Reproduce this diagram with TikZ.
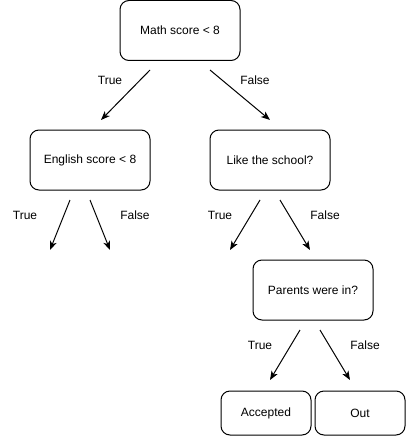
\documentclass[tikz,border=0pt]{standalone}
\usepackage{fontspec}
\setmainfont{Liberation Sans}
\usetikzlibrary{arrows.meta}
\begin{document}
\begin{tikzpicture}[x=1pt,y=-1pt,
  box/.style={draw=black,line width=1pt,rounded corners=9pt,minimum width=120pt,minimum height=60pt,inner sep=0pt,font=\fontsize{12}{14}\selectfont},
  leaf/.style={box,minimum width=90pt,minimum height=44pt},
  lbl/.style={font=\fontsize{12}{14}\selectfont,inner sep=0pt},
  arr/.style={draw=black,line width=1pt,-{Stealth[length=9pt,width=7pt,inset=2.5pt]}}]
\useasboundingbox (0,0) rectangle (406,436);
\node[box] (math) at (180,30.5) {Math score < 8};
\node[box] (eng) at (90,160) {English score < 8};
\node[box] (like) at (270,160) {Like the school?};
\node[box] (par) at (313,290) {Parents were in?};
\node[leaf] (acc) at (266,413) {Accepted};
\node[leaf] (out) at (360,413) {Out};
% free-end coordinates
\coordinate (m1) at (150,70); \coordinate (m1e) at (101,120);
\coordinate (m2) at (210,70); \coordinate (m2e) at (270,120);
\coordinate (e1) at (70,200); \coordinate (e1e) at (50,250);
\coordinate (e2) at (90,200); \coordinate (e2e) at (110,250);
\coordinate (l1) at (260,200); \coordinate (l1e) at (230,250);
\coordinate (l2) at (280,200); \coordinate (l2e) at (310,250);
\coordinate (p1) at (300,330); \coordinate (p1e) at (270,380);
\coordinate (p2) at (320,330); \coordinate (p2e) at (350,380);
\draw[arr] (m1) -- (m1e);
\draw[arr] (m2) -- (m2e);
\draw[arr] (e1) -- (e1e);
\draw[arr] (e2) -- (e2e);
\draw[arr] (l1) -- (l1e);
\draw[arr] (l2) -- (l2e);
\draw[arr] (p1) -- (p1e);
\draw[arr] (p2) -- (p2e);
\node[lbl] (t1) at (110,80) {True};
\node[lbl] (f1) at (255,80) {False};
\node[lbl] (t2) at (25,215) {True};
\node[lbl] (f2) at (135,215) {False};
\node[lbl] (t3) at (220,215) {True};
\node[lbl] (f3) at (325,215) {False};
\node[lbl] (t4) at (260,345) {True};
\node[lbl] (f4) at (365,345) {False};
\end{tikzpicture}
\end{document}
